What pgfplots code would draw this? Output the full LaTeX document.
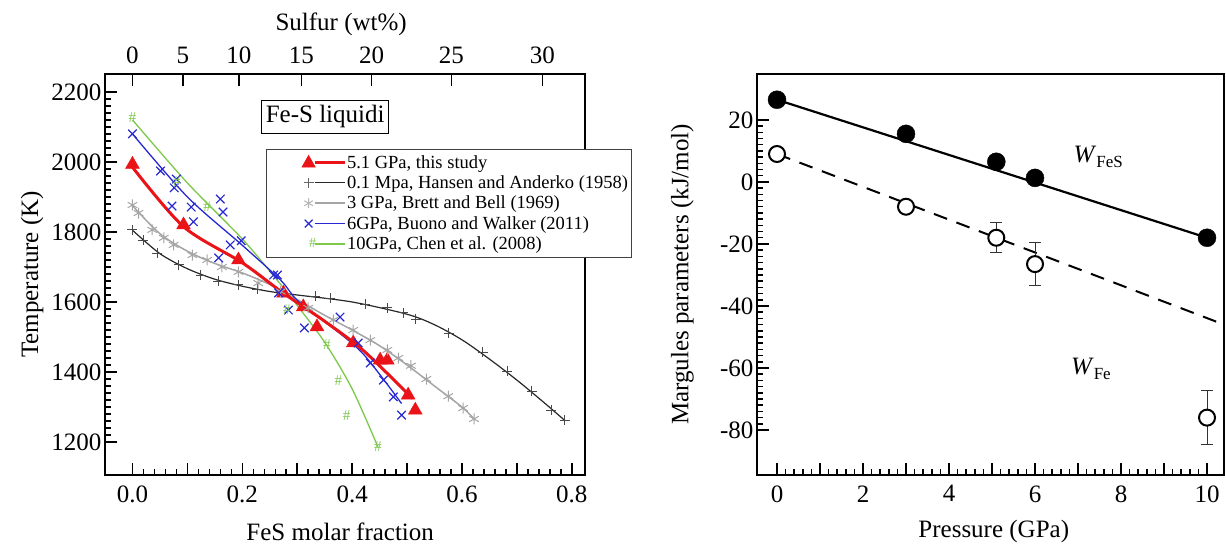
\documentclass[border=0pt]{standalone}
\usepackage{fontspec}
\setmainfont{Liberation Serif}
\usepackage{pgfplots}
\pgfplotsset{compat=1.18}
\usetikzlibrary{plotmarks}
\definecolor{cred}{RGB}{234,20,24}
\definecolor{cblue}{RGB}{40,40,210}
\definecolor{cgreen}{RGB}{125,200,75}
\definecolor{cgray}{RGB}{165,165,165}
\definecolor{cblack}{RGB}{40,40,40}
\newcommand{\ft}{\fontsize{25}{29}\selectfont}
\newcommand{\fl}{\fontsize{18.5}{21}\selectfont}
\pgfplotsset{
  common/.style={scale only axis, anchor=south west, height=401pt,
    tick align=inside, axis line style={line width=2.2pt},
    every tick/.style={black, line width=1.5pt},
    major tick length=12pt, minor tick length=6pt,
    tick label style={font=\ft}, label style={font=\ft},
    xticklabel style={yshift=-7pt},
  },
}
\pgfplotstableread{
x y
0 1993
0.093 1820
0.193 1720
0.275 1625
0.311 1586
0.336 1529
0.402 1483
0.451 1434
0.464 1434
0.502 1334
0.515 1291
}\redpts
\pgfplotstableread{
x y
0 1806
0.02 1777
0.045 1740
0.084 1706
0.124 1677
0.156 1660
0.193 1649
0.227 1637
0.333 1617
0.36 1611
0.424 1594
0.464 1583
0.493 1569
0.516 1551
0.576 1511
0.638 1457
0.682 1403
0.727 1346
0.762 1291
0.787 1262
}\blackpts
\pgfplotstableread{
x y
0 1877
0.011 1854
0.036 1806
0.057 1783
0.075 1763
0.109 1734
0.136 1720
0.163 1700
0.193 1686
0.229 1654
0.27 1630
0.32 1583
0.366 1549
0.402 1520
0.433 1491
0.464 1463
0.484 1440
0.507 1418
0.535 1380
0.575 1331
0.602 1297
0.622 1266
}\graypts
\pgfplotstableread{
x y
0 2080
0.051 1974
0.08 1951
0.076 1926
0.072 1874
0.107 1871
0.111 1829
0.16 1894
0.165 1857
0.157 1726
0.178 1763
0.198 1775
0.257 1677
0.264 1677
0.266 1626
0.284 1577
0.313 1526
0.378 1557
0.411 1483
0.433 1426
0.457 1377
0.475 1329
0.49 1277
}\bluepts
\pgfplotstableread{
x y
0 2126
0.081 1943
0.136 1871
0.281 1577
0.354 1477
0.375 1377
0.39 1277
0.447 1186
}\greenpts
\begin{document}
\begin{tikzpicture}
\useasboundingbox (0,0) rectangle (1226pt,550pt);
% ---------------- left panel ----------------
\begin{axis}[common, at={(105pt,75pt)}, width=480pt,
  xmin=-0.05, xmax=0.824, ymin=1106, ymax=2251,
  xtick={0,0.1,0.2,0.3,0.4,0.5,0.6,0.7,0.8},
  xticklabels={0.0,,0.2,,0.4,,0.6,,0.8}, minor x tick num=4,
  ytick={1200,1400,1600,1800,2000,2200},
  yticklabels={1200,1400,1600,1800,2000,2200}, minor y tick num=9,
  xtick pos=left, ytick pos=left,
  xlabel={FeS molar fraction}, ylabel={Temperature (K)},
  xlabel style={at={(axis description cs:0.49,-0.141)}, anchor=center},
  ylabel style={at={(axis description cs:-0.152,0.5)}, anchor=center},
  legend cell align=left,
  legend style={at={(rel axis cs:0.335,0.813)}, anchor=north west,
    font=\fl, draw=black!75, line width=0.8pt, row sep=2pt,
    inner xsep=2pt, inner ysep=4pt, nodes={inner xsep=1pt}},
]
% fitted curves
\addplot[cblack, line width=1.2pt, smooth, forget plot] coordinates {
(0,1805) (0.05,1738) (0.1,1695) (0.15,1665) (0.2,1645) (0.25,1630) (0.3,1620)
(0.4,1600) (0.5,1565) (0.55,1535) (0.6,1492) (0.65,1437) (0.7,1377) (0.75,1312) (0.787,1262)};
\addplot[cgray, line width=1.5pt, smooth, forget plot] coordinates {
(0,1875) (0.05,1795) (0.1,1745) (0.15,1710) (0.2,1683) (0.25,1650) (0.3,1607)
(0.35,1562) (0.4,1520) (0.45,1475) (0.5,1420) (0.55,1360) (0.6,1300) (0.622,1266)};
\addplot[cgreen, line width=1.3pt, smooth, forget plot] coordinates {
(0,2120) (0.1,1940) (0.2,1780) (0.27,1650) (0.3,1590) (0.35,1485) (0.4,1352) (0.447,1186)};
\addplot[cblue, line width=1.3pt, smooth, forget plot] coordinates {
(0,2080) (0.1,1900) (0.2,1762) (0.27,1662) (0.3,1605) (0.36,1532) (0.42,1452) (0.49,1310)};
\addplot[cred, line width=3pt, smooth, forget plot] coordinates {
(0,1985) (0.093,1815) (0.2,1712) (0.275,1625) (0.35,1545) (0.42,1462) (0.5,1340) (0.51,1325)};
% data points
\addplot[only marks, mark=triangle*, mark size=8pt, color=cred,
  legend image code/.code={\path (-40pt,0pt);
    \fill[cred] (0pt,7pt)--(-6.5pt,-4.5pt)--(6.5pt,-4.5pt)--cycle;
    \draw[cred, line width=3pt] (6pt,0pt)--(36pt,0pt);}]
  table {\redpts};
\addlegendentry{5.1 GPa, this study}
\addplot[only marks, mark=+, mark size=5pt, color=cblack!85, mark options={line width=0.9pt},
  legend image code/.code={\path (-40pt,0pt);
    \draw[black!60, line width=0.8pt] (-5pt,0pt)--(5pt,0pt) (0pt,-5pt)--(0pt,5pt);
    \draw[cblack, line width=1.2pt] (6pt,0pt)--(36pt,0pt);}]
  table {\blackpts};
\addlegendentry{0.1 Mpa, Hansen and Anderko (1958)}
\addplot[only marks, mark=asterisk, mark size=5.5pt, color=cgray, mark options={line width=1pt},
  legend image code/.code={\path (-40pt,0pt);
    \draw[cgray!80, line width=0.9pt, mark=asterisk, mark size=5pt] plot coordinates {(0pt,0pt)};
    \draw[cgray, line width=1.5pt] (6pt,0pt)--(36pt,0pt);}]
  table {\graypts};
\addlegendentry{3 GPa, Brett and Bell (1969)}
\addplot[only marks, mark=x, mark size=6pt, color=cblue, mark options={line width=1.2pt},
  legend image code/.code={\path (-40pt,0pt);
    \draw[cblue, line width=1.2pt, mark=x, mark size=5.5pt] plot coordinates {(0pt,0pt)};
    \draw[cblue, line width=1.3pt] (6pt,0pt)--(36pt,0pt);}]
  table {\bluepts};
\addlegendentry{6GPa, Buono and Walker (2011)}
\addplot[only marks, mark=text, text mark={\color{cgreen}\fontsize{15}{15}\selectfont\#},
  color=cgreen,
  legend image code/.code={\path (-40pt,0pt);
    \node[text=cgreen, font=\fontsize{14}{14}\selectfont, inner sep=0pt] at (0pt,0pt) {\#};
    \draw[cgreen, line width=1.3pt] (6pt,0pt)--(36pt,0pt);}]
  table {\greenpts};
\addlegendentry{10GPa, Chen et al. (2008)}
\node[draw=black, line width=1pt, font=\ft, inner xsep=4pt, inner ysep=5pt, fill=white]
  at (axis cs:0.351,2129) {Fe-S liquidi};
\end{axis}
% top axis: sulfur wt%
\begin{axis}[scale only axis, anchor=south west, at={(105pt,75pt)}, width=480pt, height=401pt,
  xmin=-0.05, xmax=0.824, ymin=0, ymax=1, hide y axis, axis x line*=top,
  axis line style={line width=2.2pt}, every tick/.style={black, line width=1.5pt},
  tick align=inside, major tick length=12pt,
  xtick={0,0.0917,0.1936,0.3074,0.4355,0.5807,0.7466},
  xticklabels={0,5,10,15,20,25,30},
  tick label style={font=\ft}, label style={font=\ft},
  xticklabel style={yshift=7pt},
  xlabel={Sulfur (wt\%)},
  xlabel style={at={(axis description cs:0.492,1.125)}, anchor=center},
]
\addplot[draw=none] coordinates {(0,0)};
\end{axis}
% ---------------- right panel ----------------
\begin{axis}[common, at={(757pt,75pt)}, width=467pt,
  xmin=-0.465, xmax=10.395, ymin=-94.5, ymax=34.8,
  xtick={0,1,2,3,4,5,6,7,8,9,10}, xticklabels={0,,2,,4,,6,,8,,10}, minor x tick num=4,
  ytick={-80,-60,-40,-20,0,20}, yticklabels={-80,-60,-40,-20,0,20}, minor y tick num=9,
  xtick pos=left, ytick pos=left,
  xlabel={Pressure (GPa)}, ylabel={Margules parameters (kJ/mol)},
  xlabel style={at={(axis description cs:0.507,-0.141)}, anchor=center},
  ylabel style={at={(axis description cs:-0.16,0.5)}, anchor=center},
]
\addplot[black, line width=2.2pt] coordinates {(0,26.5) (10,-18)};
\addplot[black, line width=2pt, dash pattern=on 14pt off 10pt] coordinates {(0,9) (10.395,-46)};
\addplot[black!80, only marks, mark=none,
  error bars/.cd, y dir=both, y explicit,
  error bar style={line width=1pt, black!80},
  error mark options={rotate=90, mark size=6pt, line width=1pt, black!80}]
  coordinates {(5.1,-18) +- (0,4.8) (6,-26.5) +- (0,7) (10,-76) +- (0,8.7)};
\addplot[only marks, mark=*, mark size=9pt, black] coordinates {(0,26.5) (3,15.5) (5.1,6.5) (6,1.3) (10,-18)};
\addplot[only marks, mark=*, mark size=8pt, mark options={fill=white, draw=black, line width=2pt}]
  coordinates {(0,9) (3,-8) (5.1,-18) (6,-26.5) (10,-76)};
\node[font=\ft, anchor=center] at (axis cs:7.47,8.0) {\textit{W}\raisebox{-5pt}{\fontsize{17}{17}\selectfont FeS}};
\node[font=\ft, anchor=center] at (axis cs:7.3,-60.2) {\textit{W}\raisebox{-5pt}{\fontsize{17}{17}\selectfont Fe}};
\end{axis}
\end{tikzpicture}
\end{document}
